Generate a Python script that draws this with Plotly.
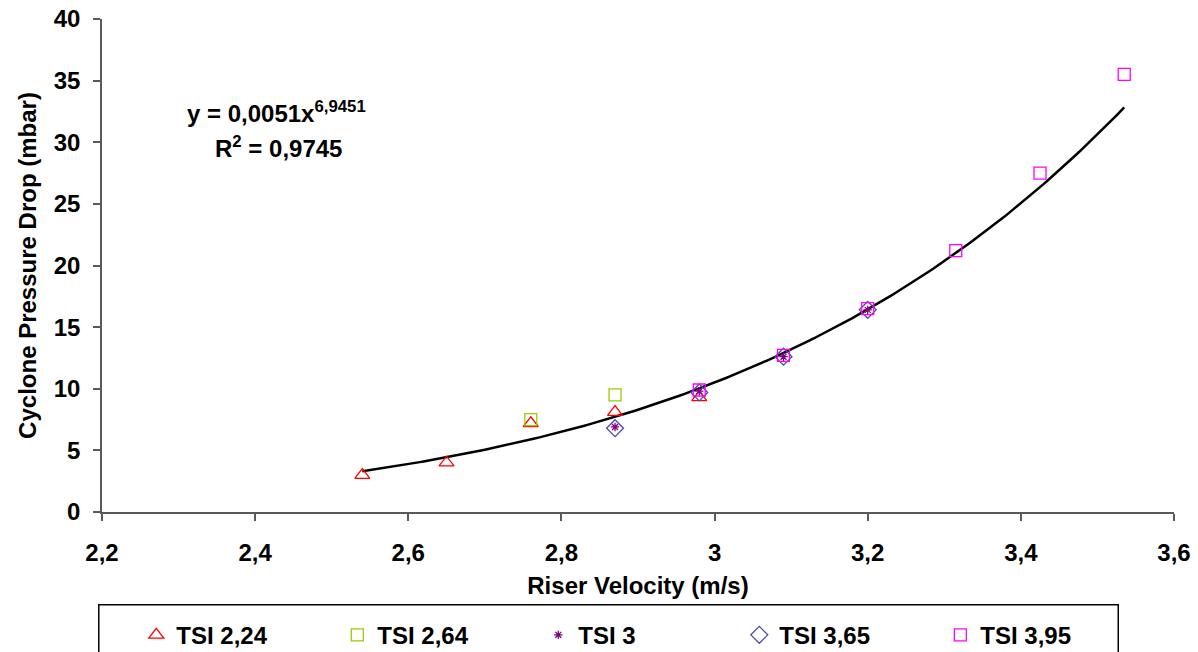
import numpy as np
import plotly.graph_objects as go

# ---- data ----
tsi224_x = [2.54, 2.65, 2.76, 2.87, 2.98]
tsi224_y = [3.0, 4.0, 7.2, 8.1, 9.3]

tsi264_x = [2.76, 2.87]
tsi264_y = [7.5, 9.5]

tsi3_x = [2.87, 2.98, 3.09, 3.20]
tsi3_y = [6.9, 9.8, 12.6, 16.4]

tsi365_x = [2.87, 2.98, 3.09, 3.20]
tsi365_y = [6.8, 9.7, 12.6, 16.4]

tsi395_x = [2.98, 3.09, 3.20, 3.315, 3.425, 3.535]
tsi395_y = [9.9, 12.7, 16.5, 21.2, 27.5, 35.5]

# power trendline shown on the chart: y = a * x^b
fit_a = 0.0051
fit_b = 6.9451
fit_x_start, fit_x_end = 2.54, 3.535

x_ticks = [2.2, 2.4, 2.6, 2.8, 3.0, 3.2, 3.4, 3.6]
y_ticks = [0, 5, 10, 15, 20, 25, 30, 35, 40]

FONT = "Liberation Sans, Arial, sans-serif"
FS = 24

fit_x = np.linspace(fit_x_start, fit_x_end, 200)
fit_y = fit_a * fit_x ** fit_b

fig = go.Figure()

fig.add_trace(go.Scatter(x=fit_x, y=fit_y, mode="lines",
                         line=dict(color="black", width=2.5),
                         showlegend=False, hoverinfo="skip"))

series = [
    ("TSI 2,24", tsi224_x, tsi224_y, "triangle-up-open", "#FF0000", 13),
    ("TSI 2,64", tsi264_x, tsi264_y, "square-open", "#99CC00", 12),
    ("TSI 3", tsi3_x, tsi3_y, "asterisk-open", "#800080", 7),
    ("TSI 3,65", tsi365_x, tsi365_y, "diamond-open", "#4B4BA8", 13),
    ("TSI 3,95", tsi395_x, tsi395_y, "square-open", "#FF00FF", 12),
]
for name, xs, ys, sym, col, sz in series:
    fig.add_trace(go.Scatter(
        x=xs, y=ys, mode="markers", name=name,
        marker=dict(symbol=sym, size=sz, color=col, line=dict(color=col, width=1.3)),
    ))

axis_common = dict(
    showgrid=False, zeroline=False, showline=True, linecolor="#5a5a5a",
    linewidth=1.5, ticks="outside", ticklen=7, tickcolor="#5a5a5a", tickwidth=1.5,
    tickfont=dict(family=FONT, size=FS, color="black", weight="bold"),
)

fig.update_xaxes(range=[2.2, 3.6], tickvals=x_ticks, ticklabelstandoff=11,
                 title=dict(text="Riser Velocity (m/s)", standoff=13,
                            font=dict(family=FONT, size=FS, color="black", weight="bold")),
                 **axis_common)
fig.update_yaxes(range=[0, 40], tickvals=y_ticks, ticklabelstandoff=8,
                 title=dict(text="Cyclone Pressure Drop (mbar)", standoff=10,
                            font=dict(family=FONT, size=FS, color="black", weight="bold")),
                 **axis_common)

fig.add_annotation(x=2.428, y=32.45, xref="x", yref="y", showarrow=False,
                   text="y = 0,0051x<sup>6,9451</sup>",
                   font=dict(family=FONT, size=FS, color="black", weight="bold"))
fig.add_annotation(x=2.43, y=29.6, xref="x", yref="y", showarrow=False,
                   text="R<sup>2</sup> = 0,9745",
                   font=dict(family=FONT, size=FS, color="black", weight="bold"))

# legend frame
fig.add_shape(type="rect", xref="paper", yref="paper",
              x0=-0.003, x1=0.948, y0=-0.40, y1=-0.188,
              line=dict(color="black", width=1.5), fillcolor="rgba(0,0,0,0)")

fig.update_layout(
    width=1198, height=652,
    margin=dict(l=102, r=24, t=19, b=140, autoexpand=False),
    plot_bgcolor="white", paper_bgcolor="white",
    separators=", ",
    font=dict(family=FONT, size=FS, color="black"),
    legend=dict(orientation="h", x=0.032, xanchor="left", y=-0.25, yanchor="middle",
                bgcolor="rgba(0,0,0,0)", borderwidth=0,
                entrywidth=156, entrywidthmode="pixels",
                font=dict(family=FONT, size=FS, color="black", weight="bold")),
)

fig.write_html("out.html")
